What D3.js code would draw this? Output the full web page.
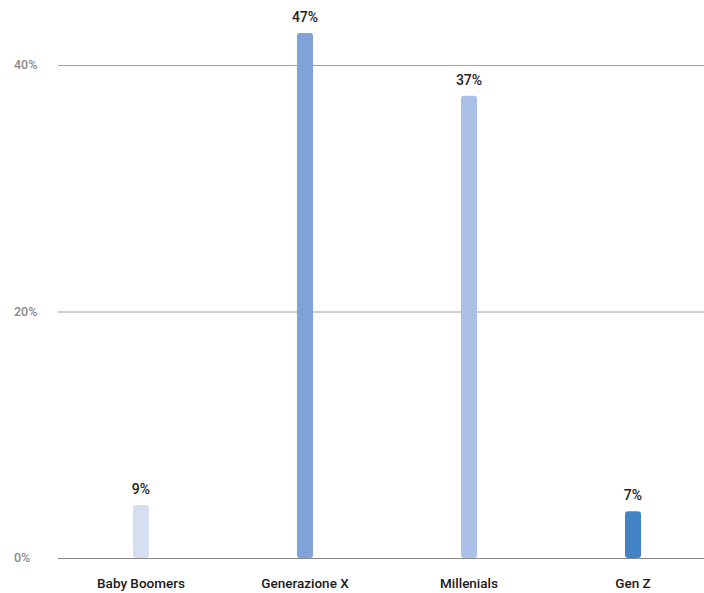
<!DOCTYPE html>
<html>
<head>
<meta charset="utf-8">
<script src="https://cdn.jsdelivr.net/npm/d3@7"></script>
<style>
  body { margin: 0; background: #fff; }
  svg { display: block; font-family: Roboto, "Open Sans", sans-serif; }
</style>
</head>
<body>
<div id="chart"></div>
<script>
// Generations, bar heights as drawn, and the value labels shown above them
const categories = ["Baby Boomers", "Generazione X", "Millenials", "Gen Z"];
const values = [4.3, 42.6, 37.5, 3.8];
const valueLabels = ["9%", "47%", "37%", "7%"];
const barColors = ["#d6dff2", "#7fa3d7", "#aac0e6", "#4283c6"];
const yTicks = [0, 20, 40];

const width = 704, height = 593;

const svg = d3.select("#chart").append("svg")
    .attr("width", width)
    .attr("height", height);

// band scale extends past the right edge, like the cropped original
const x = d3.scaleBand()
    .domain(categories)
    .range([59, 715]);

const y = d3.scaleLinear()
    .domain([0, 40])
    .range([558, 65]);

// gridlines
svg.selectAll(".grid")
  .data(yTicks)
  .join("line")
    .attr("x1", 58)
    .attr("x2", width)
    .attr("y1", d => y(d) + 0.5)
    .attr("y2", d => y(d) + 0.5)
    .attr("stroke", d => d === 0 ? "#888" : "#a0a0a0")
    .attr("stroke-width", 1);

// y tick labels
svg.selectAll(".ytick")
  .data(yTicks)
  .join("text")
    .attr("x", 14)
    .attr("y", d => y(d) + 4)
    .style("font-size", "12.5px")
    .style("font-weight", 500)
    .style("fill", "#8a8a8a")
    .text(d => d + "%");

const barW = 16;

// bars
svg.selectAll(".bar")
  .data(values)
  .join("rect")
    .attr("x", (d, i) => x(categories[i]) + x.bandwidth() / 2 - barW / 2)
    .attr("y", d => y(d))
    .attr("width", barW)
    .attr("height", d => y(0) - y(d))
    .attr("rx", 3)
    .attr("fill", (d, i) => barColors[i]);

// value labels
svg.selectAll(".vlabel")
  .data(values)
  .join("text")
    .attr("x", (d, i) => x(categories[i]) + x.bandwidth() / 2)
    .attr("y", d => y(d) - 11)
    .style("text-anchor", "middle")
    .style("font-size", "14px")
    .style("font-weight", 500)
    .style("fill", "#222")
    .text((d, i) => valueLabels[i]);

// category labels
svg.selectAll(".xlabel")
  .data(categories)
  .join("text")
    .attr("x", d => x(d) + x.bandwidth() / 2)
    .attr("y", 588)
    .style("text-anchor", "middle")
    .style("font-size", "13.5px")
    .style("font-weight", 500)
    .style("fill", "#1a1a1a")
    .text(d => d);
</script>
</body>
</html>
